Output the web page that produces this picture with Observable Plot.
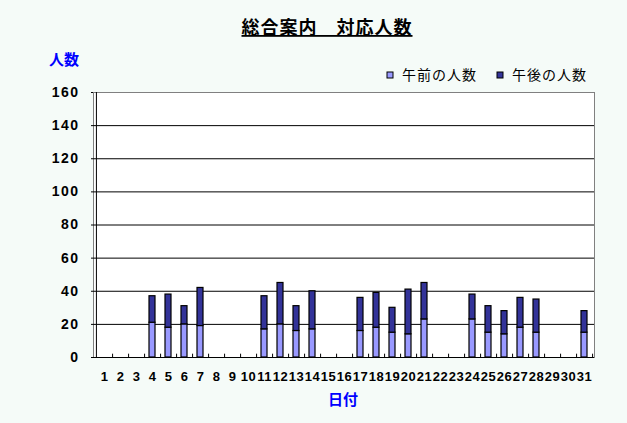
<!DOCTYPE html>
<html><head><meta charset="utf-8">
<script src="https://cdn.jsdelivr.net/npm/d3@7"></script>
<script src="https://cdn.jsdelivr.net/npm/@observablehq/plot@0.6"></script>
<style>html,body{margin:0;padding:0;background:#f5fbf8;}</style>
</head><body><div id="chart"></div>
<script>
const days = [1,2,3,4,5,6,7,8,9,10,11,12,13,14,15,16,17,18,19,20,21,22,23,24,25,26,27,28,29,30,31];
const morning   = [0,0,0,21,18,20,19,0,0,0,17,20,16,17,0,0,16,18,15,14,23,0,0,23,15,14,18,15,0,0,15];
const afternoon = [0,0,0,16,20,11,23,0,0,0,20,25,15,23,0,0,20,21,15,27,22,0,0,15,16,14,18,20,0,0,13];
const seriesNames = ["午前の人数", "午後の人数"];
const seriesColors = ["#9999ff", "#333399"];
const yTicks = [0, 20, 40, 60, 80, 100, 120, 140, 160];
const titleText = "総合案内　対応人数";
const yLabel = "人数";
const xLabel = "日付";

const data = [];
days.forEach((d, i) => {
  if (morning[i] > 0) data.push({day: d, series: seriesNames[0], value: morning[i]});
  if (afternoon[i] > 0) data.push({day: d, series: seriesNames[1], value: afternoon[i]});
});

const W = 627, H = 423, mL = 93, mR = 33, mT = 92, mB = 66;
const half = (W - mL - mR) / days.length / 2;
const numFont = "'Liberation Sans', Arial, sans-serif";
const jpFont = "'Noto Sans CJK JP', sans-serif";

const plot = Plot.plot({
  width: W, height: H,
  marginLeft: mL, marginRight: mR, marginTop: mT, marginBottom: mB,
  style: {background: "transparent", overflow: "visible"},
  x: {type: "band", domain: days, padding: 0, label: null},
  y: {domain: [0, 160], label: null},
  color: {domain: seriesNames, range: seriesColors},
  marks: [
    Plot.frame({fill: "white", stroke: "#808080"}),
    Plot.ruleY(yTicks.filter(v => v > 0 && v < 160), {stroke: "black"}),
    Plot.barY(data, Plot.stackY({x: "day", y: "value", fill: "series", stroke: "black", strokeWidth: 1.2, insetLeft: 5, insetRight: 5})),
    Plot.ruleX(days.slice(0, 1), {x: d => d, dx: -half, stroke: "black"}),
    Plot.ruleY([0], {stroke: "black"}),
    Plot.ruleX(days, {x: d => d, dx: half, y1: 0, y2: 2, stroke: "black"}),
    Plot.axisY({ticks: yTicks, tickSize: 2, tickPadding: 12, fontSize: 14, fontWeight: "bold", fontFamily: numFont, label: null}),
    Plot.axisX({tickSize: 0, tickPadding: 14, fontSize: 13, fontWeight: "bold", fontFamily: numFont, label: null})
  ]
});
document.getElementById("chart").appendChild(plot);

const svg = d3.select(plot);
svg.selectAll("[aria-label='y-axis tick label'] text").style("letter-spacing", "1.5px");
svg.selectAll("[aria-label='x-axis tick label'] text").style("letter-spacing", "0.5px");

svg.append("text")
  .attr("x", 327).attr("y", 34)
  .attr("text-anchor", "middle")
  .style("font-family", jpFont).style("font-size", "18px").style("font-weight", "bold")
  .style("text-decoration", "underline").style("letter-spacing", "1px")
  .attr("fill", "black").text(titleText);

svg.append("text")
  .attr("x", 49).attr("y", 65)
  .attr("text-anchor", "start")
  .style("font-family", jpFont).style("font-size", "15px").style("font-weight", "bold")
  .attr("fill", "#0000ff").text(yLabel);

svg.append("text")
  .attr("x", 343).attr("y", 405)
  .attr("text-anchor", "middle")
  .style("font-family", jpFont).style("font-size", "15px").style("font-weight", "bold")
  .attr("fill", "#0000ff").text(xLabel);

const legendX = [387, 497];
const legend = svg.append("g");
seriesNames.forEach((name, i) => {
  legend.append("rect").attr("x", legendX[i]).attr("y", 72).attr("width", 6).attr("height", 6)
    .attr("fill", plot.scale("color").apply(name)).attr("stroke", "black");
  legend.append("text").attr("x", legendX[i] + 15).attr("y", 80)
    .attr("text-anchor", "start")
    .style("font-family", jpFont).style("font-size", "14px").style("letter-spacing", "1px")
    .attr("fill", "black").text(name);
});
</script></body></html>
